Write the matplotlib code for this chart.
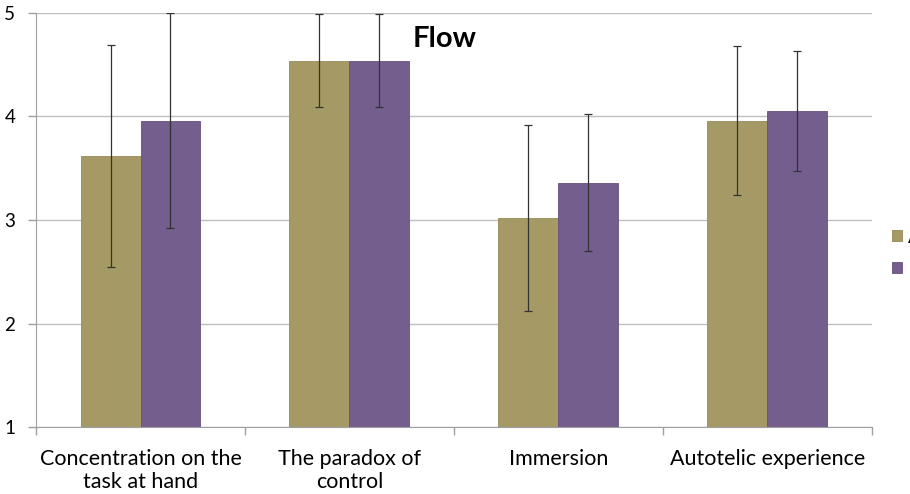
import numpy as np
import matplotlib.pyplot as plt

categories = ["Concentration on the\ntask at hand", "The paradox of\ncontrol",
              "Immersion", "Autotelic experience"]
a_means = [3.62, 4.54, 3.02, 3.96]
a_err = [1.07, 0.45, 0.90, 0.72]
b_means = [3.96, 4.54, 3.36, 4.05]
b_err = [1.04, 0.45, 0.66, 0.58]
series_names = ["A", "B"]

plt.rcParams['font.family'] = ['Lato', 'DejaVu Sans']

fig = plt.figure(figsize=(9.1, 4.94), dpi=100)
ax = fig.add_axes([0.0396, 0.1356, 0.9184, 0.8381])

x = np.arange(len(categories))
w = 0.287
base = 1

ax.bar(x - w / 2, np.array(a_means) - base, w, bottom=base, color='#A59A66',
       edgecolor='#958a58', linewidth=0.6, label=series_names[0], zorder=2)
ax.bar(x + w / 2, np.array(b_means) - base, w, bottom=base, color='#735E8E',
       edgecolor='#66507f', linewidth=0.6, label=series_names[1], zorder=2)
ax.errorbar(x - w / 2, a_means, yerr=a_err, fmt='none', ecolor='#333333',
            elinewidth=0.9, capsize=3, capthick=0.9, zorder=3)
ax.errorbar(x + w / 2, b_means, yerr=b_err, fmt='none', ecolor='#333333',
            elinewidth=0.9, capsize=3, capthick=0.9, zorder=3)

ax.set_xlim(-0.5, len(categories) - 0.5)
ax.set_ylim(1, 5)
ax.set_yticks([1, 2, 3, 4, 5])
ax.yaxis.grid(True, color='#bfbfbf', linewidth=1)
ax.set_axisbelow(True)

ax.set_xticks(x)
ax.set_xticklabels(categories, fontsize=15.5, linespacing=1.15)
ax.set_xticks(np.arange(len(categories) + 1) - 0.5, minor=True)
ax.tick_params(axis='x', which='major', length=0, pad=16)
ax.tick_params(axis='x', which='minor', length=6, color='#a0a0a0', width=1)
ax.tick_params(axis='y', length=6, color='#a0a0a0', width=1, labelsize=13.5, pad=9)

for side in ['top', 'right']:
    ax.spines[side].set_visible(False)
for side in ['left', 'bottom']:
    ax.spines[side].set_color('#a0a0a0')

fig.text(0.489, 0.922, "Flow", fontsize=21, fontweight='bold', ha='center', va='center')

ax.legend(loc='center left', bbox_to_anchor=(1.003, 0.42), frameon=False,
          fontsize=14, handlelength=0.5, handleheight=0.5, handletextpad=0.35,
          labelspacing=0.75)

fig.savefig("out.png", dpi=100)
